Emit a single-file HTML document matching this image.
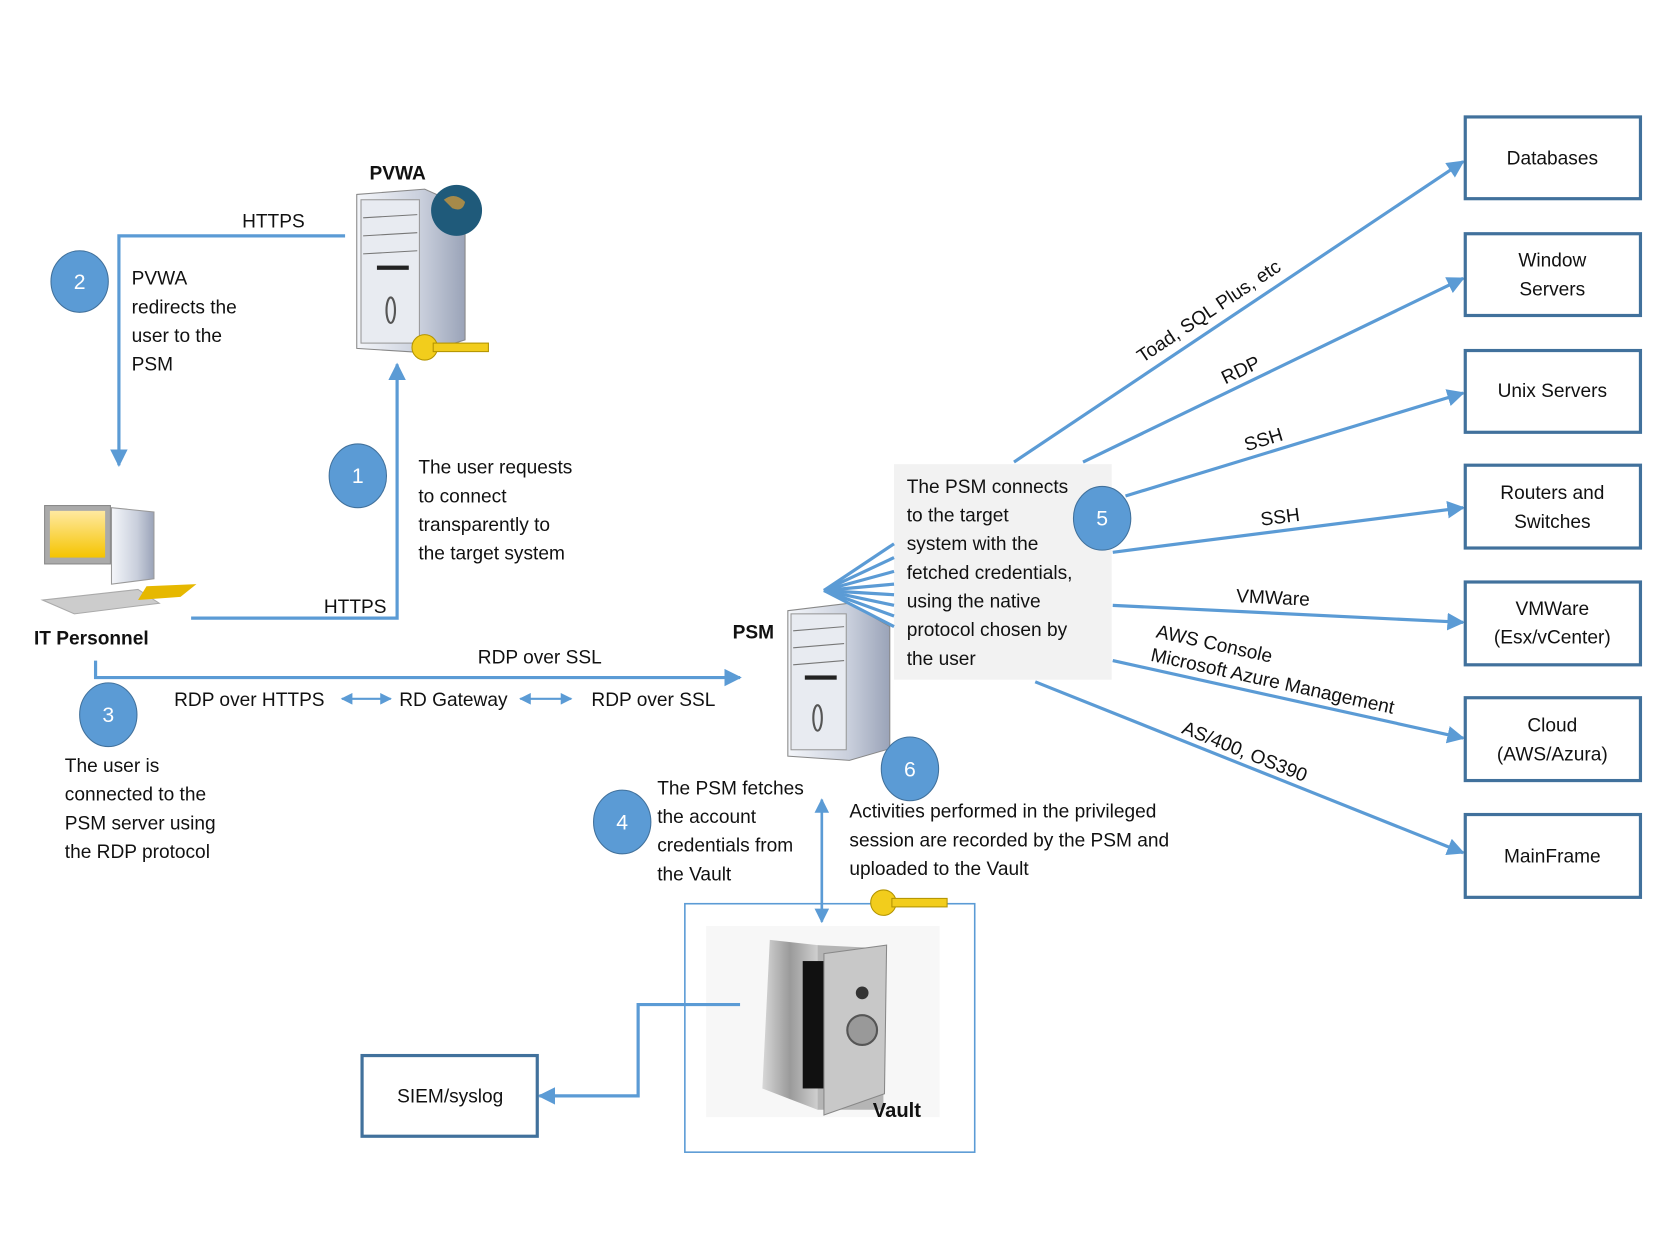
<!DOCTYPE html>
<html><head><meta charset="utf-8"><style>html,body{margin:0;padding:0;background:#fff}svg{display:block}text{font-family:"Liberation Sans",sans-serif;fill:#111}</style></head><body>
<svg width="1667" height="1250" viewBox="0 0 1570 1177" xmlns="http://www.w3.org/2000/svg">
<defs>
<marker id="a" viewBox="0 0 10 10" refX="9" refY="5" markerWidth="5.5" markerHeight="5.5" orient="auto-start-reverse"><path d="M0,0L10,5L0,10z" fill="#5b9bd5"/></marker>
<linearGradient id="srv" x1="0" x2="1"><stop offset="0" stop-color="#f4f6fa"/><stop offset="0.6" stop-color="#c9cfdc"/><stop offset="1" stop-color="#9aa3b8"/></linearGradient>
<linearGradient id="safe" x1="0" x2="1"><stop offset="0" stop-color="#d8d8d8"/><stop offset="0.5" stop-color="#9a9a9a"/><stop offset="1" stop-color="#cfcfcf"/></linearGradient>
<linearGradient id="scr" x1="0" y1="0" x2="0" y2="1"><stop offset="0" stop-color="#ffe9a0"/><stop offset="1" stop-color="#f5c400"/></linearGradient>
</defs>
<rect x="842" y="437" width="205" height="203" fill="#f2f2f2"/>
<!-- vault -->
<rect x="645" y="851" width="273" height="234" fill="#fff" stroke="#5b9bd5" stroke-width="1.5"/>
<rect x="665" y="872" width="220" height="180" fill="#f7f7f7"/>
<path d="M725,885 L770,890 L770,1045 L718,1025z" fill="url(#safe)"/>
<path d="M770,890 L832,893 L832,1045 L770,1045z" fill="#b5b5b5"/>
<rect x="756" y="905" width="20" height="120" fill="#111"/>
<path d="M776,898 L835,890 L833,1030 L776,1050z" fill="#c8c8c8" stroke="#888"/>
<circle cx="812" cy="970" r="14" fill="#999" stroke="#555" stroke-width="2"/><circle cx="812" cy="935" r="6" fill="#333"/>
<text x="822" y="1052" font-size="19" font-weight="bold">Vault</text>
<!-- PVWA server -->
<path d="M336,183 L400,178 L438,195 L438,320 L400,332 L336,328z" fill="url(#srv)" stroke="#888"/>
<rect x="340" y="188" width="55" height="135" fill="#e8ebf1" stroke="#999"/>
<g stroke="#777"><line x1="342" y1="205" x2="393" y2="202"/><line x1="342" y1="222" x2="393" y2="219"/><line x1="342" y1="239" x2="393" y2="236"/></g>
<rect x="355" y="250" width="30" height="4" fill="#222"/><ellipse cx="368" cy="292" rx="4" ry="12" fill="none" stroke="#555" stroke-width="2"/>
<circle cx="430" cy="198" r="24" fill="#1f5a7a"/><path d="M418,188 q10,-8 20,2 q-2,10 -12,6z" fill="#a58a4a"/>
<text x="348" y="169" font-size="18" font-weight="bold">PVWA</text>
<!-- keys -->
<g fill="#f2cd1c" stroke="#b39400" stroke-width="1"><circle cx="832" cy="850" r="12"/><rect x="840" y="846" width="52" height="8"/></g>
<g fill="#f2cd1c" stroke="#b39400" stroke-width="1"><circle cx="400" cy="327" r="12"/><rect x="408" y="323" width="52" height="8"/></g>
<!-- PSM server -->
<path d="M742,575 L800,568 L838,590 L838,705 L800,716 L742,712z" fill="url(#srv)" stroke="#888"/>
<rect x="745" y="578" width="52" height="128" fill="#e8ebf1" stroke="#999"/>
<g stroke="#777"><line x1="747" y1="594" x2="795" y2="590"/><line x1="747" y1="610" x2="795" y2="606"/><line x1="747" y1="626" x2="795" y2="622"/></g>
<rect x="758" y="636" width="30" height="4" fill="#222"/><ellipse cx="770" cy="676" rx="4" ry="12" fill="none" stroke="#555" stroke-width="2"/>
<text x="690" y="601" font-size="18" font-weight="bold">PSM</text>
<!-- PC -->
<rect x="42" y="476" width="62" height="55" fill="#aaa" stroke="#888"/><rect x="47" y="481" width="52" height="44" fill="url(#scr)"/>
<path d="M105,478 L145,482 L145,545 L105,550z" fill="url(#srv)" stroke="#999"/>
<path d="M40,565 L130,555 L150,568 L70,578z" fill="#ccc" stroke="#aaa"/>
<path d="M138,552 L185,550 L170,562 L130,565z" fill="#e6b800"/>
<text x="32" y="607" font-size="18" font-weight="bold">IT Personnel</text>
<g stroke="#5b9bd5" stroke-width="3" fill="none">
<polyline points="325,222 112,222 112,438" marker-end="url(#a)"/>
<polyline points="180,582 374,582 374,343" marker-end="url(#a)"/>
<polyline points="90,622 90,638 697,638" marker-end="url(#a)"/>
<line x1="322" y1="658" x2="368" y2="658" marker-start="url(#a)" marker-end="url(#a)" stroke-width="2"/>
<line x1="490" y1="658" x2="538" y2="658" marker-start="url(#a)" marker-end="url(#a)" stroke-width="2"/>
<line x1="774" y1="753" x2="774" y2="868" marker-start="url(#a)" marker-end="url(#a)" stroke-width="2.5"/>
<polyline points="697,946 601,946 601,1032 508,1032" marker-end="url(#a)"/>
<line x1="955" y1="435" x2="1378" y2="152" marker-end="url(#a)"/>
<line x1="1020" y1="435" x2="1378" y2="262" marker-end="url(#a)"/>
<line x1="1060" y1="467" x2="1378" y2="370" marker-end="url(#a)"/>
<line x1="1048" y1="520" x2="1378" y2="478" marker-end="url(#a)"/>
<line x1="1048" y1="570" x2="1378" y2="586" marker-end="url(#a)"/>
<line x1="1048" y1="622" x2="1378" y2="695" marker-end="url(#a)"/>
<line x1="975" y1="642" x2="1378" y2="803" marker-end="url(#a)"/>
<g stroke-width="3"><line x1="776" y1="556" x2="842" y2="512"/><line x1="776" y1="556" x2="842" y2="525"/><line x1="776" y1="556" x2="842" y2="538"/><line x1="776" y1="556" x2="842" y2="550"/><line x1="776" y1="556" x2="842" y2="560"/><line x1="776" y1="556" x2="842" y2="570"/><line x1="776" y1="556" x2="842" y2="580"/><line x1="776" y1="556" x2="842" y2="590"/></g>
</g>
<g fill="#fff" stroke="#41719c" stroke-width="3">
<rect x="1380" y="110" width="165" height="77"/><rect x="1380" y="220" width="165" height="77"/><rect x="1380" y="330" width="165" height="77"/><rect x="1380" y="438" width="165" height="78"/><rect x="1380" y="548" width="165" height="78"/><rect x="1380" y="657" width="165" height="78"/><rect x="1380" y="767" width="165" height="78"/><rect x="341" y="994" width="165" height="76"/>
</g>
<g font-size="18" text-anchor="middle">
<text x="1462" y="155">Databases</text><text x="1462" y="251">Window</text><text x="1462" y="278">Servers</text><text x="1462" y="374">Unix Servers</text><text x="1462" y="470">Routers and</text><text x="1462" y="497">Switches</text><text x="1462" y="579">VMWare</text><text x="1462" y="606">(Esx/vCenter)</text><text x="1462" y="689">Cloud</text><text x="1462" y="716">(AWS/Azura)</text><text x="1462" y="812">MainFrame</text><text x="424" y="1038">SIEM/syslog</text>
</g>
<!-- circles -->
<g fill="#5b9bd5" stroke="#41719c" stroke-width="1"><ellipse cx="75" cy="265" rx="27" ry="29"/><ellipse cx="337" cy="448" rx="27" ry="30"/><ellipse cx="102" cy="673" rx="27" ry="30"/><ellipse cx="586" cy="774" rx="27" ry="30"/><ellipse cx="1038" cy="488" rx="27" ry="30"/><ellipse cx="857" cy="724" rx="27" ry="30"/></g>
<g font-size="20" text-anchor="middle"><text x="75" y="272" style="fill:#fff">2</text><text x="337" y="455" style="fill:#fff">1</text><text x="102" y="680" style="fill:#fff">3</text><text x="586" y="781" style="fill:#fff">4</text><text x="1038" y="495" style="fill:#fff">5</text><text x="857" y="731" style="fill:#fff">6</text></g>
<g font-size="18">
<text x="228" y="214">HTTPS</text><text x="305" y="577">HTTPS</text>
<text x="124" y="268">PVWA</text><text x="124" y="295">redirects the</text><text x="124" y="322">user to the</text><text x="124" y="349">PSM</text>
<text x="394" y="446">The user requests</text><text x="394" y="473">to connect</text><text x="394" y="500">transparently to</text><text x="394" y="527">the target system</text>
<text x="450" y="625">RDP over SSL</text>
<text x="164" y="665">RDP over HTTPS</text><text x="376" y="665">RD Gateway</text><text x="557" y="665">RDP over SSL</text>
<text x="61" y="727">The user is</text><text x="61" y="754">connected to the</text><text x="61" y="781">PSM server using</text><text x="61" y="808">the RDP protocol</text>
<text x="619" y="748">The PSM fetches</text><text x="619" y="775">the account</text><text x="619" y="802">credentials from</text><text x="619" y="829">the Vault</text>
<text x="800" y="770">Activities performed in the privileged</text><text x="800" y="797">session are recorded by the PSM and</text><text x="800" y="824">uploaded to the Vault</text>
<text x="854" y="464">The PSM connects</text><text x="854" y="491">to the target</text><text x="854" y="518">system with the</text><text x="854" y="545">fetched credentials,</text><text x="854" y="572">using the native</text><text x="854" y="599">protocol chosen by</text><text x="854" y="626">the user</text>
<text transform="translate(1076,342) rotate(-33.8)">Toad, SQL Plus, etc</text>
<text transform="translate(1154,362) rotate(-25.8)">RDP</text>
<text transform="translate(1174,425) rotate(-17)">SSH</text>
<text transform="translate(1188,495) rotate(-7.2)">SSH</text>
<text transform="translate(1164,567) rotate(2.8)">VMWare</text>
<text transform="translate(1088,600) rotate(12.4)">AWS Console</text>
<text transform="translate(1083,622) rotate(12.4)">Microsoft Azure Management</text>
<text transform="translate(1112,690) rotate(21.8)">AS/400, OS390</text>
</g>
</svg>
</body></html>
